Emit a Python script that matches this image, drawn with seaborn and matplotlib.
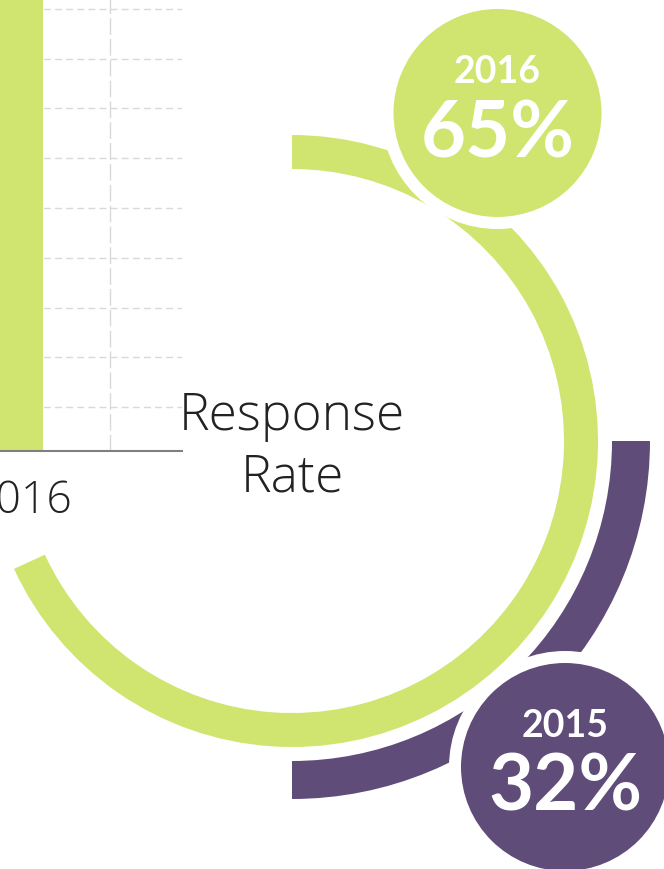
import matplotlib.pyplot as plt
import seaborn as sns
from matplotlib.patches import Circle, Wedge

# data
YEARS = ["2016", "2015"]
RATES = [65, 32]
BAR_YEARS = ["2016"]
BAR_VALUES = [97]
GRID_TICKS = [10, 20, 30, 40, 50, 60, 70, 80, 90, 100]

GREEN = "#D0E56F"
PURPLE = "#5F4C79"
TEXT = "#222222"
LIGHT_FONT = ["Open Sans", "DejaVu Sans"]

W, H = 664, 870


def fy(y):
    """pixel row (from top) -> data y of the overlay axes"""
    return H - y


sns.set_theme(style="white")
plt.rcParams["font.family"] = ["Lato", "DejaVu Sans"]

fig = plt.figure(figsize=(W / 100, H / 100), dpi=100)

# bar chart fragment on the left, partly outside the canvas
ax_bar = fig.add_axes([-68 / W, (H - 452) / H, 250 / W, 492 / H])
sns.barplot(x=BAR_YEARS, y=BAR_VALUES, color=GREEN, width=0.247,
            linewidth=0, saturation=1, ax=ax_bar)
ax_bar.set_xlim(-0.5, 0.904)
ax_bar.set_ylim(1.156, 100.05)
ax_bar.set_yticks(GRID_TICKS)
ax_bar.yaxis.grid(True, color="#D9D9D9", linestyle=(0, (5, 3)), linewidth=1.0)
ax_bar.axvline(0.5, color="#D9D9D9", linestyle=(0, (12, 3)), linewidth=1.0, zorder=0)
ax_bar.set_axisbelow(True)
ax_bar.tick_params(axis="y", left=False, labelleft=False)
ax_bar.tick_params(axis="x", length=0, pad=20, labelsize=32, labelcolor=TEXT)
for lbl in ax_bar.get_xticklabels():
    lbl.set_fontfamily(LIGHT_FONT)
    lbl.set_fontweight("light")
for side in ["left", "right", "top"]:
    ax_bar.spines[side].set_visible(False)
ax_bar.spines["bottom"].set_color("#7F7F7F")
ax_bar.spines["bottom"].set_linewidth(1.5)
ax_bar.set_facecolor("none")

# overlay for the ring infographic
ax = fig.add_axes([0, 0, 1, 1])
ax.set_xlim(0, W)
ax.set_ylim(0, H)
ax.axis("off")
ax.set_facecolor("none")

cx, cy = 292, fy(442)
rings = {
    "2016": dict(color=GREEN, r=306, width=34, t1=204.7, t2=450,
                 badge=(497.5, fy(114))),
    "2015": dict(color=PURPLE, r=358, width=38, t1=270, t2=360,
                 badge=(565, fy(768))),
}

for year in YEARS:
    g = rings[year]
    ax.add_patch(Wedge((cx, cy), g["r"], g["t1"], g["t2"], width=g["width"],
                       facecolor=g["color"], edgecolor="none", zorder=2))

for year, rate in zip(YEARS, RATES):
    g = rings[year]
    bx, by = g["badge"]
    ax.add_patch(Circle((bx, by), 116, facecolor="white", edgecolor="none", zorder=3))
    ax.add_patch(Circle((bx, by), 104, facecolor=g["color"], edgecolor="none", zorder=4))
    ax.text(bx, by + 31, year, ha="center", va="baseline", color="white",
            fontsize=27, fontweight="bold", zorder=5)
    ax.text(bx, by - 43, f"{rate}%", ha="center", va="baseline", color="white",
            fontsize=56, fontweight="bold", zorder=5)

ax.text(cx, fy(430), "Response", ha="center", va="baseline", color=TEXT,
        fontsize=37, fontweight="light", family=LIGHT_FONT, zorder=5)
ax.text(cx, fy(492), "Rate", ha="center", va="baseline", color=TEXT,
        fontsize=37, fontweight="light", family=LIGHT_FONT, zorder=5)

fig.savefig("out.png", dpi=100)
